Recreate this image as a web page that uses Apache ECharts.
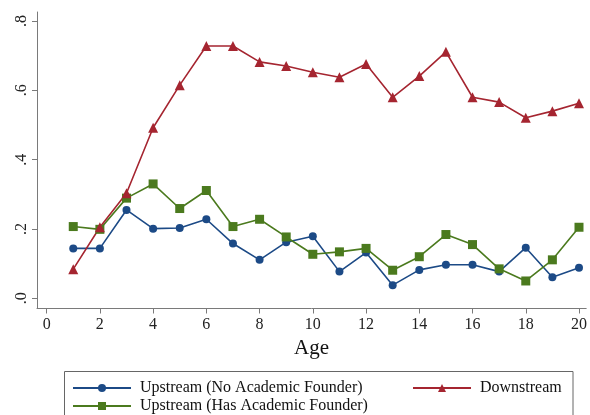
<!DOCTYPE html>
<html>
<head>
<meta charset="utf-8">
<script src="https://cdn.jsdelivr.net/npm/echarts@6/dist/echarts.min.js"></script>
<style>
html,body{margin:0;padding:0;background:#fff;}
#chart{width:590px;height:415px;}
</style>
</head>
<body>
<div id="chart"></div>
<script>
const ages = [1,2,3,4,5,6,7,8,9,10,11,12,13,14,15,16,17,18,19,20];
const upstreamNoAcademic = [0.144,0.144,0.255,0.201,0.203,0.228,0.158,0.111,0.162,0.179,0.077,0.132,0.038,0.082,0.097,0.097,0.077,0.146,0.061,0.088];
const upstreamHasAcademic = [0.207,0.199,0.289,0.330,0.259,0.311,0.207,0.228,0.177,0.127,0.134,0.144,0.081,0.120,0.184,0.155,0.085,0.050,0.111,0.205];
const downstream = [0.084,0.205,0.303,0.492,0.615,0.728,0.728,0.682,0.670,0.652,0.638,0.676,0.580,0.641,0.711,0.580,0.566,0.521,0.540,0.563];
const xTickValues = [0,2,4,6,8,10,12,14,16,18,20];
const xTickLabels = ['0','2','4','6','8','10','12','14','16','18','20'];
const yTickValues = [0,0.2,0.4,0.6,0.8];
const yTickLabels = ['.0','.2','.4','.6','.8'];
const seriesNames = ['Upstream (No Academic Founder)','Upstream (Has Academic Founder)','Downstream'];

const font = 'Liberation Serif';
const pair = vals => ages.map((a,i)=>[a, vals[i]]);
const legendItem = (name, left, top) => ({
  data:[name], orient:'horizontal', left:left, top:top, padding:0, itemWidth:58, itemHeight:10,
  textStyle:{fontFamily:font, fontSize:16, color:'#111', padding:[0,0,0,4]}
});

const chart = echarts.init(document.getElementById('chart'), null, {renderer:'canvas'});
chart.setOption({
  animation:false,
  backgroundColor:'#fff',
  grid:{left:37, right:0, top:12, bottom:106.5, containLabel:false},
  xAxis:{
    type:'value', min:-0.362, max:20.27,
    name:'Age', nameLocation:'middle', nameGap:29,
    nameTextStyle:{fontFamily:font, fontSize:21, color:'#111'},
    axisLine:{show:true, onZero:false, lineStyle:{color:'#7a7a7a', width:1}},
    axisTick:{show:true, length:5, customValues:xTickValues, lineStyle:{color:'#7a7a7a'}},
    axisLabel:{customValues:xTickValues, margin:8, fontFamily:font, fontSize:16, color:'#222',
      formatter:v=>{const i=xTickValues.indexOf(v); return i>=0?xTickLabels[i]:'';}},
    splitLine:{show:false}
  },
  yAxis:{
    type:'value', min:-0.0294, max:0.826,
    axisLine:{show:true, onZero:false, lineStyle:{color:'#7a7a7a', width:1}},
    axisTick:{show:true, length:5, customValues:yTickValues, lineStyle:{color:'#7a7a7a'}},
    axisLabel:{customValues:yTickValues, rotate:90, margin:7, fontFamily:font, fontSize:16, color:'#222',
      formatter:v=>{let i=-1; yTickValues.forEach((t,k)=>{if(Math.abs(t-v)<1e-6)i=k;}); return i>=0?yTickLabels[i]:'';}},
    splitLine:{show:false}
  },
  legend:[
    legendItem(seriesNames[0], 72, 380),
    legendItem(seriesNames[1], 72, 398),
    legendItem(seriesNames[2], 412, 380)
  ],
  graphic:[{type:'rect', shape:{x:64.5, y:371.5, width:508.5, height:60}, style:{fill:'none', stroke:'#666', lineWidth:1}, silent:true}],
  series:[
    {name:seriesNames[0], type:'line', data:pair(upstreamNoAcademic), symbol:'circle', symbolSize:8,
     itemStyle:{color:'#1c4a86'}, lineStyle:{color:'#1c4a86', width:1.6}},
    {name:seriesNames[1], type:'line', data:pair(upstreamHasAcademic), symbol:'rect', symbolSize:9,
     itemStyle:{color:'#4b7a1e'}, lineStyle:{color:'#4b7a1e', width:1.6}},
    {name:seriesNames[2], type:'line', data:pair(downstream), symbol:'triangle', symbolSize:10,
     itemStyle:{color:'#a52530'}, lineStyle:{color:'#a52530', width:1.6}}
  ]
});
</script>
</body>
</html>
